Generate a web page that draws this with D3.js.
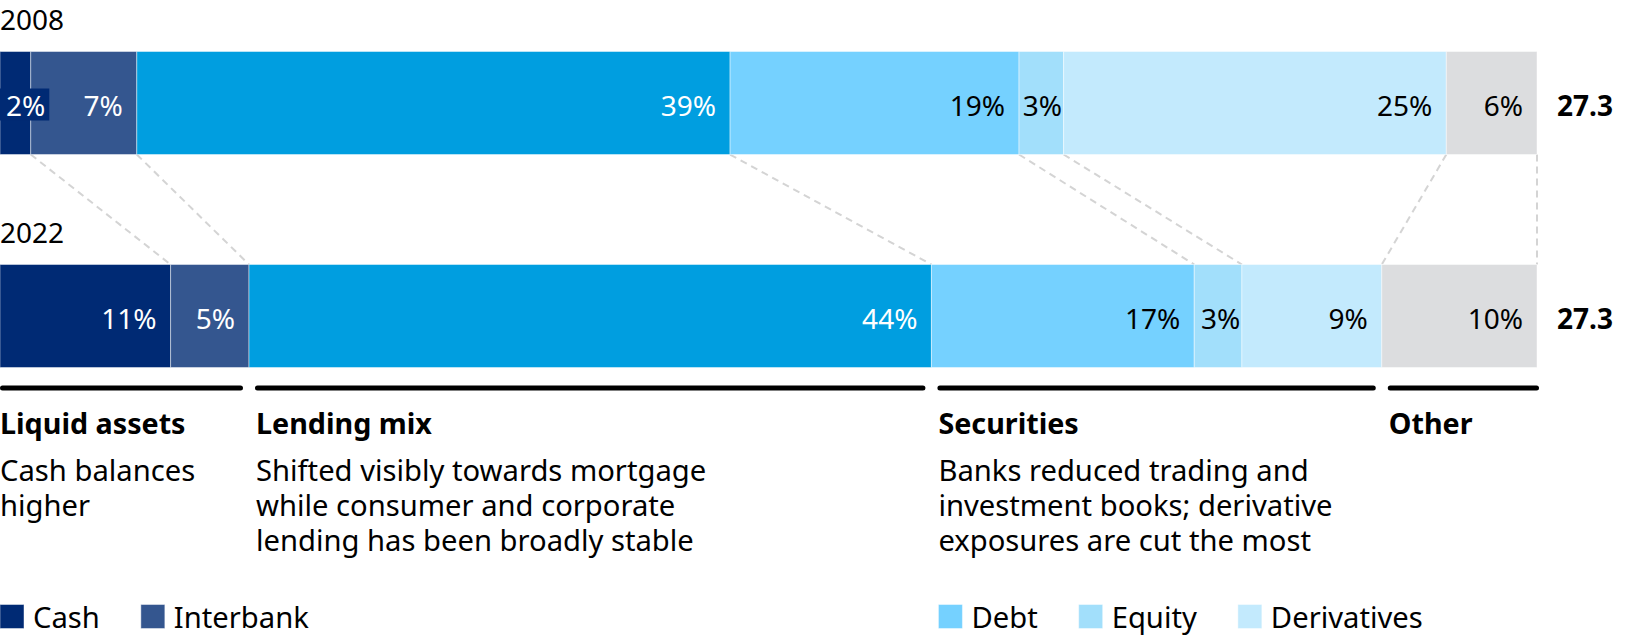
<!DOCTYPE html>
<html>
<head>
<meta charset="utf-8">
<script src="https://cdn.jsdelivr.net/npm/d3@7"></script>
<style>
  html, body { margin: 0; padding: 0; background: #fff; }
  svg { display: block; font-family: "Noto Sans", "Open Sans", sans-serif; }
</style>
</head>
<body>
<svg id="chart" width="1625" height="639"></svg>
<script>
// ---------- data ----------
const categories = ["Cash", "Interbank", "Lending", "Debt", "Equity", "Derivatives", "Other"];
const years = ["2008", "2022"];
const share2008 = [2.0, 6.9, 38.6, 18.8, 2.9, 24.9, 5.9];
const share2022 = [11.1, 5.1, 44.4, 17.1, 3.1, 9.1, 10.1];
const labels2008 = ["2%", "7%", "39%", "19%", "3%", "25%", "6%"];
const labels2022 = ["11%", "5%", "44%", "17%", "3%", "9%", "10%"];
const totals = ["27.3", "27.3"];

const groupNames = ["Liquid assets", "Lending mix", "Securities", "Other"];
const groupMembers = [["Cash", "Interbank"], ["Lending"], ["Debt", "Equity", "Derivatives"], ["Other"]];
const groupNotes = [
  ["Cash balances", "higher"],
  ["Shifted visibly towards mortgage", "while consumer and corporate", "lending has been broadly stable"],
  ["Banks reduced trading and", "investment books; derivative", "exposures are cut the most"],
  []
];
const legendCats = [["Cash", "Interbank"], [], ["Debt", "Equity", "Derivatives"], []];

// ---------- styles ----------
const colors = {
  Cash: "#002A74", Interbank: "#34568F", Lending: "#009EE0", Debt: "#75D1FF",
  Equity: "#A2DFFB", Derivatives: "#C3EAFD", Other: "#DCDDDF"
};
const darkCats = new Set(["Cash", "Interbank", "Lending"]);
const FS = 28;       // numbers
const FS_TXT = 29.2; // body text, legend
const FS_HEAD = 28.7;

const svg = d3.select("#chart");

const x = d3.scaleLinear().domain([0, 100]).range([0, 1537]);
const y = d3.scaleBand().domain(years).range([51.5, 367.5]).paddingInner(0.5164).paddingOuter(0);
const bh = y.bandwidth();

const rows = years.map((yr, i) => {
  const vals = i === 0 ? share2008 : share2022;
  const labs = i === 0 ? labels2008 : labels2022;
  let acc = 0;
  const segs = categories.map((c, j) => {
    const s = { year: yr, cat: c, x0: acc, x1: acc + vals[j], label: labs[j] };
    acc += vals[j];
    return s;
  });
  return { year: yr, segs, total: totals[i] };
});

// connectors (dashed) between boundaries
const connG = svg.append("g");
for (let j = 0; j < categories.length; j++) {
  const a = rows[0].segs[j].x1, b = rows[1].segs[j].x1;
  connG.append("line")
    .attr("x1", x(a)).attr("y1", y("2008") + bh)
    .attr("x2", x(b)).attr("y2", y("2022"))
    .attr("stroke", "#d4d4d4").attr("stroke-width", 2)
    .attr("stroke-dasharray", "7,5");
}

// bars
rows.forEach(row => {
  const g = svg.append("g");
  const yy = y(row.year);
  g.append("text").attr("x", 0).attr("y", yy - 21.5)
    .attr("font-size", FS).attr("fill", "#000").text(row.year);

  g.selectAll("rect.seg").data(row.segs).join("rect")
    .attr("class", "seg")
    .attr("x", d => x(d.x0)).attr("y", yy)
    .attr("width", d => x(d.x1) - x(d.x0)).attr("height", bh)
    .attr("fill", d => colors[d.cat])
    .attr("stroke", "rgba(255,255,255,0.45)").attr("stroke-width", 1);

  const base = yy + bh / 2 + 13;
  row.segs.forEach(d => {
    const fill = darkCats.has(d.cat) ? "#fff" : "#000";
    const t = g.append("text").attr("font-size", FS).attr("fill", fill).text(d.label);
    const w = t.node().getComputedTextLength();
    const segW = x(d.x1) - x(d.x0);
    if (w + 2 > segW) {
      const bx = x(d.x0);
      g.insert("rect", function () { return t.node(); })
        .attr("x", bx).attr("y", base - 27.5)
        .attr("width", w + 10).attr("height", 32)
        .attr("fill", colors[d.cat]);
      t.attr("x", bx + 6).attr("y", base).attr("text-anchor", "start");
    } else if (w + 28 > segW) {
      t.attr("x", x(d.x1) - 1.5).attr("y", base).attr("text-anchor", "end");
    } else {
      t.attr("x", x(d.x1) - 14).attr("y", base).attr("text-anchor", "end");
    }
  });

  g.append("text").attr("x", x(100) + 20).attr("y", base)
    .attr("font-size", FS).attr("font-weight", "bold").attr("fill", "#000")
    .text(row.total);
});

// groups
const seg2022 = rows[1].segs;
const lineY = 388;
groupNames.forEach((name, i) => {
  const mem = seg2022.filter(s => groupMembers[i].includes(s.cat));
  const gx0 = x(d3.min(mem, s => s.x0));
  const gx1 = x(d3.max(mem, s => s.x1));
  const first = i === 0, last = i === groupNames.length - 1;
  const vx0 = first ? 0 : gx0 + 6;
  const vx1 = last ? gx1 + 2 : gx1 - 6;
  svg.append("line")
    .attr("x1", vx0 + 2.5).attr("x2", vx1 - 2.5)
    .attr("y1", lineY).attr("y2", lineY)
    .attr("stroke", "#000").attr("stroke-width", 5).attr("stroke-linecap", "round");
  const tx = first ? 0 : vx0 + 1;
  svg.append("text").attr("x", tx).attr("y", 433.5)
    .attr("font-size", FS_HEAD).attr("font-weight", "bold").attr("fill", "#000").text(name);
  groupNotes[i].forEach((ln, k) => {
    svg.append("text").attr("x", tx).attr("y", 481 + k * 35)
      .attr("font-size", FS_TXT).attr("fill", "#000").text(ln);
  });
  // legend
  let lx = first ? 0 : vx0 + 1;
  legendCats[i].forEach(c => {
    svg.append("rect").attr("x", lx).attr("y", 604.5).attr("width", 24).attr("height", 24)
      .attr("fill", colors[c]).attr("stroke", "rgba(255,255,255,0.45)").attr("stroke-width", 1);
    const t = svg.append("text").attr("x", lx + 33).attr("y", 628)
      .attr("font-size", FS_TXT).attr("fill", "#000").text(c);
    lx += 33 + t.node().getComputedTextLength() + 41;
  });
});
</script>
</body>
</html>
